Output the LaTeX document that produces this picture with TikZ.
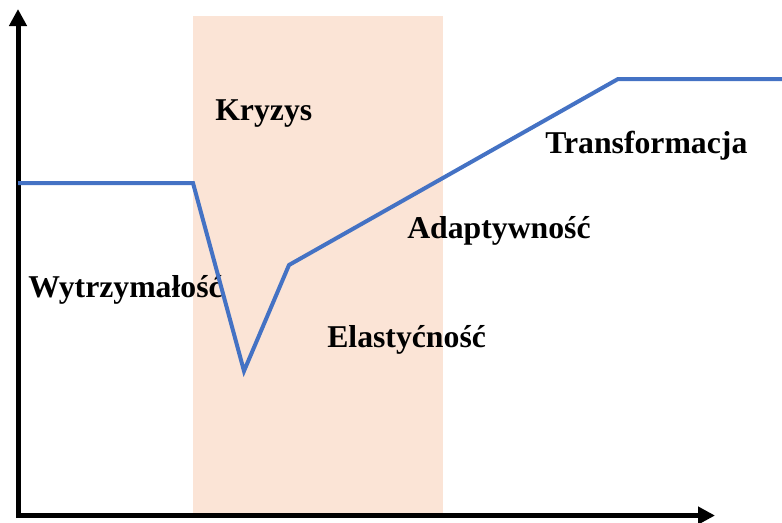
\documentclass[tikz,border=0pt]{standalone}
\usepackage{fontspec}
\setmainfont{Liberation Serif}
\usetikzlibrary{arrows.meta}
\definecolor{crisis}{HTML}{FBE4D6}
\definecolor{curve}{HTML}{4472C4}
\tikzset{
  lbl/.style={anchor=base west, inner sep=0pt, font=\fontsize{23.8}{28}\selectfont\bfseries},
  axis/.style={line width=3.75pt, -{Triangle[length=12.75pt,width=12.75pt]}},
  curveline/.style={curve, line width=3pt, line join=miter}
}
\begin{document}
\begin{tikzpicture}[x=0.75pt,y=-0.75pt]
\useasboundingbox (0,0) rectangle (782,522);
\fill[crisis] (193,16) rectangle (443,514);
\node[lbl] (kryzys) at (215,120) {Kryzys};
\node[lbl] (transf) at (545,153) {Transformacja};
\node[lbl] (adapt) at (407,238) {Adaptywność};
\node[lbl] (wytrz) at (28,297) {Wytrzymałość};
\node[lbl] (elast) at (327,347) {Elastyćność};
\coordinate (ytip) at (18,9);
\coordinate (xtip) at (715,515.5);
\coordinate (ostart) at (18,518);
\coordinate (xstart) at (16,515.5);
\draw[axis] (ostart) -- (ytip);
\draw[axis] (xstart) -- (xtip);
\coordinate (p0) at (18,183);
\coordinate (p1) at (193,183);
\coordinate (p2) at (244,371);
\coordinate (p3) at (289,265);
\coordinate (p4) at (618,79);
\coordinate (p5) at (782,79);
\draw[curveline] (p0) -- (p1) -- (p2) -- (p3) -- (p4) -- (p5);
\end{tikzpicture}
\end{document}
